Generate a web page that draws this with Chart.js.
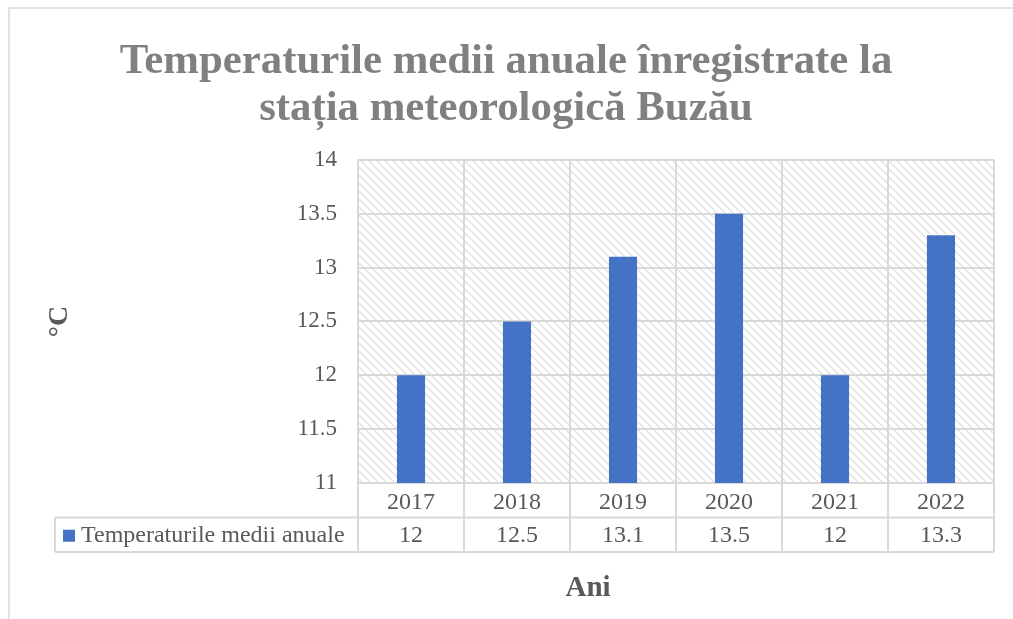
<!DOCTYPE html>
<html>
<head>
<meta charset="utf-8">
<script src="https://cdn.jsdelivr.net/npm/chart.js@4.4.1/dist/chart.umd.min.js"></script>
<style>
  html, body { margin: 0; padding: 0; background: #fff; }
  #wrap { width: 1013px; height: 619px; }
</style>
</head>
<body>
<div id="wrap"><canvas id="temp_chart" width="1013" height="619"></canvas></div>
<script>
const years = ["2017", "2018", "2019", "2020", "2021", "2022"];
const temps = [12, 12.5, 13.1, 13.5, 12, 13.3];
const seriesName = "Temperaturile medii anuale";
const chartTitle = ["Temperaturile medii anuale înregistrate la", "stația meteorologică Buzău"];
const yTitle = "°C";
const xTitle = "Ani";

const serif = "'Liberation Serif', 'Times New Roman', serif";
const gridColor = "#d9d9d9";
const textColor = "#595959";
const barColor = "#4472c4";

// diagonal hatch for the plot background
function makeHatch() {
    const c = document.createElement("canvas");
    c.width = 8;
    c.height = 8;
    const g = c.getContext("2d");
    g.fillStyle = "#fff";
    g.fillRect(0, 0, 8, 8);
    g.strokeStyle = "#e3e3e3";
    g.lineWidth = 1.5;
    g.beginPath();
    g.moveTo(-2, -2); g.lineTo(10, 10);
    g.moveTo(-10, -2); g.lineTo(2, 10);
    g.moveTo(6, -2); g.lineTo(18, 10);
    g.stroke();
    return g.createPattern(c, "repeat");
}

const backgroundPlugin = {
    id: "background",
    beforeDraw(chart) {
        const {ctx, chartArea: a} = chart;
        ctx.save();
        ctx.fillStyle = "#fff";
        ctx.fillRect(0, 0, chart.width, chart.height);
        ctx.strokeStyle = gridColor;
        ctx.lineWidth = 1.5;
        ctx.beginPath();
        ctx.moveTo(9, chart.height + 2);
        ctx.lineTo(9, 8);
        ctx.lineTo(chart.width + 2, 8);
        ctx.stroke();
        ctx.fillStyle = makeHatch();
        ctx.fillRect(a.left, a.top, a.right - a.left, a.bottom - a.top);
        ctx.restore();
    }
};

// Excel style data table under the x axis
const dataTablePlugin = {
    id: "dataTable",
    afterDraw(chart) {
        const {ctx, chartArea: a} = chart;
        const x = chart.scales.x;
        const half = (x.getPixelForValue(1) - x.getPixelForValue(0)) / 2;
        const rowH = 34.5;
        const r0 = a.bottom;
        const r1 = r0 + rowH;
        const r2 = r1 + rowH;
        const legendLeft = 55;

        ctx.save();
        ctx.strokeStyle = gridColor;
        ctx.lineWidth = 2;
        ctx.beginPath();
        for (let i = 0; i <= years.length; i++) {
            const px = x.getPixelForValue(i) - half;
            ctx.moveTo(px, r0);
            ctx.lineTo(px, r2);
        }
        ctx.moveTo(legendLeft, r1);
        ctx.lineTo(legendLeft, r2);
        ctx.moveTo(legendLeft, r1);
        ctx.lineTo(a.right, r1);
        ctx.moveTo(legendLeft, r2);
        ctx.lineTo(a.right, r2);
        ctx.stroke();

        ctx.font = "24px " + serif;
        ctx.fillStyle = textColor;
        ctx.textAlign = "center";
        ctx.textBaseline = "middle";
        const midY = (r1 + r2) / 2 + 1;
        temps.forEach((v, i) => {
            ctx.fillText(String(v), x.getPixelForValue(i), midY);
        });

        ctx.fillStyle = barColor;
        ctx.fillRect(63, midY - 6, 12, 12);
        ctx.fillStyle = textColor;
        ctx.textAlign = "left";
        ctx.fillText(seriesName, 81, midY);

        ctx.font = "bold 29px " + serif;
        ctx.textAlign = "center";
        ctx.fillText(xTitle, 588, 589);
        ctx.restore();
    }
};

const ctx = document.getElementById("temp_chart").getContext("2d");

const tempChart = new Chart(ctx, {
    type: "bar",
    data: {
        labels: years,
        datasets: [{
            label: seriesName,
            data: temps,
            backgroundColor: barColor,
            borderWidth: 0,
            barPercentage: 0.265,
            categoryPercentage: 1
        }]
    },
    options: {
        responsive: false,
        animation: false,
        events: [],
        layout: {
            padding: { left: 18, right: 19, top: 8, bottom: 0 }
        },
        plugins: {
            legend: { display: false },
            tooltip: { enabled: false },
            title: {
                display: true,
                text: chartTitle,
                color: "#808080",
                font: { family: serif, size: 42.8, weight: "bold", lineHeight: 1.12 },
                padding: { top: 29.5, bottom: 26.5 }
            }
        },
        scales: {
            x: {
                grid: { offset: true, color: gridColor, lineWidth: 2, drawTicks: false },
                border: { color: gridColor, width: 2 },
                ticks: {
                    color: textColor,
                    font: { family: serif, size: 24 },
                    padding: 5,
                    maxRotation: 0
                },
                afterFit(scale) { scale.height = 136; }
            },
            y: {
                min: 11,
                max: 14,
                grid: { color: gridColor, lineWidth: 2, drawTicks: false },
                border: { color: gridColor, width: 2 },
                ticks: {
                    stepSize: 0.5,
                    color: textColor,
                    font: { family: serif, size: 23 },
                    padding: 21,
                    callback: (v) => String(v)
                },
                title: {
                    display: true,
                    text: yTitle,
                    color: textColor,
                    font: { family: serif, size: 28, weight: "bold" },
                    padding: { top: 25 }
                },
                afterFit(scale) { scale.width = 340; }
            }
        }
    },
    plugins: [backgroundPlugin, dataTablePlugin]
});
</script>
</body>
</html>
